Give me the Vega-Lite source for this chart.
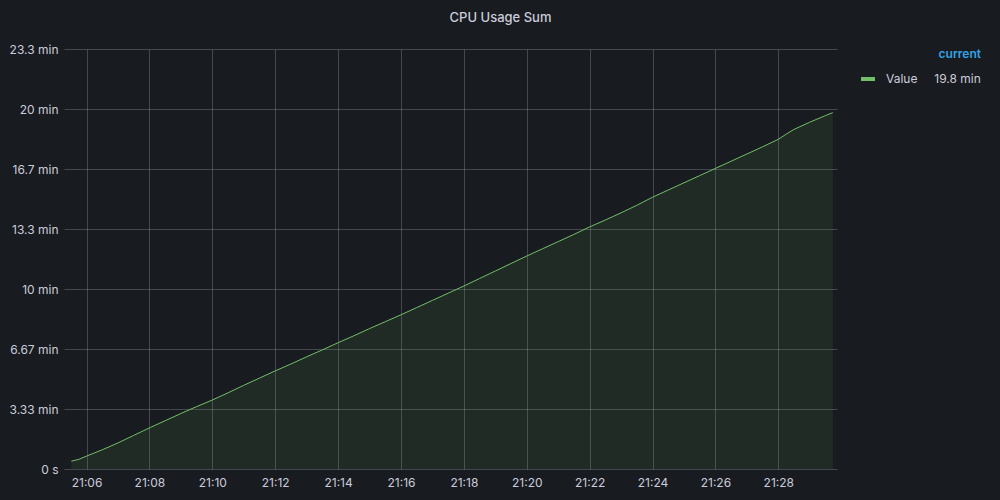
{
  "$schema": "https://vega.github.io/schema/vega-lite/v6.json",
  "width": 773,
  "height": 420,
  "autosize": {"type": "none"},
  "padding": {"left": 64, "top": 49, "right": 163, "bottom": 31},
  "background": "#181b1f",
  "title": {"text": "CPU Usage Sum", "anchor": "middle", "dx": 50, "offset": 18, "color": "#ccccdc", "fontSize": 13, "fontWeight": 500, "font": "Inter"},
  "data": {"values": [
    {"t": "2024-01-01T21:05:31", "v": 26, "s": "Value"},
    {"t": "2024-01-01T21:05:45", "v": 32, "s": "Value"},
    {"t": "2024-01-01T21:06:00", "v": 43, "s": "Value"},
    {"t": "2024-01-01T21:06:30", "v": 64, "s": "Value"},
    {"t": "2024-01-01T21:07:00", "v": 87, "s": "Value"},
    {"t": "2024-01-01T21:07:30", "v": 112, "s": "Value"},
    {"t": "2024-01-01T21:08:00", "v": 137, "s": "Value"},
    {"t": "2024-01-01T21:08:30", "v": 161, "s": "Value"},
    {"t": "2024-01-01T21:09:00", "v": 185, "s": "Value"},
    {"t": "2024-01-01T21:09:30", "v": 208, "s": "Value"},
    {"t": "2024-01-01T21:10:00", "v": 230, "s": "Value"},
    {"t": "2024-01-01T21:10:30", "v": 254, "s": "Value"},
    {"t": "2024-01-01T21:11:00", "v": 279, "s": "Value"},
    {"t": "2024-01-01T21:11:30", "v": 303, "s": "Value"},
    {"t": "2024-01-01T21:12:00", "v": 327, "s": "Value"},
    {"t": "2024-01-01T21:12:30", "v": 350, "s": "Value"},
    {"t": "2024-01-01T21:13:00", "v": 374, "s": "Value"},
    {"t": "2024-01-01T21:13:30", "v": 397, "s": "Value"},
    {"t": "2024-01-01T21:14:00", "v": 421, "s": "Value"},
    {"t": "2024-01-01T21:14:30", "v": 444, "s": "Value"},
    {"t": "2024-01-01T21:15:00", "v": 468, "s": "Value"},
    {"t": "2024-01-01T21:15:30", "v": 491, "s": "Value"},
    {"t": "2024-01-01T21:16:00", "v": 514, "s": "Value"},
    {"t": "2024-01-01T21:16:30", "v": 538, "s": "Value"},
    {"t": "2024-01-01T21:17:00", "v": 562, "s": "Value"},
    {"t": "2024-01-01T21:17:30", "v": 586, "s": "Value"},
    {"t": "2024-01-01T21:18:00", "v": 610, "s": "Value"},
    {"t": "2024-01-01T21:18:30", "v": 635, "s": "Value"},
    {"t": "2024-01-01T21:19:00", "v": 660, "s": "Value"},
    {"t": "2024-01-01T21:19:30", "v": 685, "s": "Value"},
    {"t": "2024-01-01T21:20:00", "v": 710, "s": "Value"},
    {"t": "2024-01-01T21:20:30", "v": 734, "s": "Value"},
    {"t": "2024-01-01T21:21:00", "v": 758, "s": "Value"},
    {"t": "2024-01-01T21:21:30", "v": 782, "s": "Value"},
    {"t": "2024-01-01T21:22:00", "v": 807, "s": "Value"},
    {"t": "2024-01-01T21:22:30", "v": 830, "s": "Value"},
    {"t": "2024-01-01T21:23:00", "v": 854, "s": "Value"},
    {"t": "2024-01-01T21:23:30", "v": 879, "s": "Value"},
    {"t": "2024-01-01T21:24:00", "v": 906, "s": "Value"},
    {"t": "2024-01-01T21:24:30", "v": 930, "s": "Value"},
    {"t": "2024-01-01T21:25:00", "v": 954, "s": "Value"},
    {"t": "2024-01-01T21:25:30", "v": 978, "s": "Value"},
    {"t": "2024-01-01T21:26:00", "v": 1002, "s": "Value"},
    {"t": "2024-01-01T21:26:30", "v": 1026, "s": "Value"},
    {"t": "2024-01-01T21:27:00", "v": 1050, "s": "Value"},
    {"t": "2024-01-01T21:27:30", "v": 1074, "s": "Value"},
    {"t": "2024-01-01T21:28:00", "v": 1099, "s": "Value"},
    {"t": "2024-01-01T21:28:15", "v": 1116, "s": "Value"},
    {"t": "2024-01-01T21:28:30", "v": 1132, "s": "Value"},
    {"t": "2024-01-01T21:29:00", "v": 1156, "s": "Value"},
    {"t": "2024-01-01T21:29:30", "v": 1178, "s": "Value"},
    {"t": "2024-01-01T21:29:44", "v": 1188, "s": "Value"}
  ]},
  "encoding": {
    "x": {
      "field": "t", "type": "temporal",
      "scale": {"domain": [
        {"year": 2024, "month": 1, "date": 1, "hours": 21, "minutes": 5, "seconds": 17},
        {"year": 2024, "month": 1, "date": 1, "hours": 21, "minutes": 29, "seconds": 52}
      ], "nice": false},
      "axis": {"title": null, "format": "%H:%M", "values": [
        {"year": 2024, "month": 1, "date": 1, "hours": 21, "minutes": 6},
        {"year": 2024, "month": 1, "date": 1, "hours": 21, "minutes": 8},
        {"year": 2024, "month": 1, "date": 1, "hours": 21, "minutes": 10},
        {"year": 2024, "month": 1, "date": 1, "hours": 21, "minutes": 12},
        {"year": 2024, "month": 1, "date": 1, "hours": 21, "minutes": 14},
        {"year": 2024, "month": 1, "date": 1, "hours": 21, "minutes": 16},
        {"year": 2024, "month": 1, "date": 1, "hours": 21, "minutes": 18},
        {"year": 2024, "month": 1, "date": 1, "hours": 21, "minutes": 20},
        {"year": 2024, "month": 1, "date": 1, "hours": 21, "minutes": 22},
        {"year": 2024, "month": 1, "date": 1, "hours": 21, "minutes": 24},
        {"year": 2024, "month": 1, "date": 1, "hours": 21, "minutes": 26},
        {"year": 2024, "month": 1, "date": 1, "hours": 21, "minutes": 28}
      ], "grid": true, "ticks": false, "domain": false, "labelPadding": 8, "labelFlush": false, "labelOverlap": false}
    },
    "y": {
      "field": "v", "type": "quantitative",
      "scale": {"domain": [0, 1400], "nice": false},
      "axis": {"title": null, "values": [0, 200, 400, 600, 800, 1000, 1200, 1400], "labelExpr": "datum.value == 0 ? '0 s' : format(datum.value / 60, '.3~r') + ' min'", "grid": true, "ticks": false, "domain": false, "labelPadding": 6}
    }
  },
  "layer": [
    {"mark": {"type": "area", "color": "#73bf69", "opacity": 0.1}},
    {
      "mark": {"type": "line", "strokeWidth": 1},
      "encoding": {
        "color": {
          "field": "s", "type": "nominal",
          "scale": {"range": ["#73bf69"]},
          "legend": {
            "title": "current", "orient": "right", "offset": 22,
            "titleAnchor": "end", "titleColor": "#33a2e5", "titleFontSize": 12, "titleFontWeight": 600, "titlePadding": 9,
            "labelColor": "#ccccdc", "labelFontSize": 12,
            "labelExpr": "datum.label + '\u00a0\u00a0\u00a0\u00a0\u00a019.8 min'",
            "labelOffset": 9, "labelLimit": 300,
            "symbolType": "stroke", "symbolStrokeWidth": 4, "symbolSize": 196
          }
        }
      }
    }
  ],
  "config": {
    "font": "Inter",
    "view": {"stroke": null},
    "axis": {"labelColor": "#ccccdc", "labelFontSize": 12, "labelFont": "Inter", "gridColor": "#ccccdc", "gridOpacity": 0.25, "gridWidth": 1}
  }
}
